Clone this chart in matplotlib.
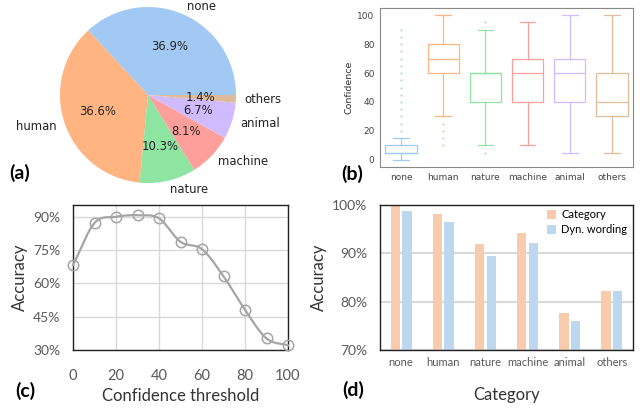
import numpy as np
import matplotlib
matplotlib.use('Agg')
import matplotlib.pyplot as plt

plt.rcParams['font.family'] = 'DejaVu Sans'

# (a) pie
pie_labels = ['none', 'human', 'nature', 'machine', 'animal', 'others']
pie_share = [36.9, 36.6, 10.3, 8.1, 6.7, 1.4]
pastel = ['#a1c9f4', '#ffb482', '#8de5a1', '#ff9f9b', '#d0bbff', '#debb9b']

# (b) box plot summary (confidence)
box_cats = ['none', 'human', 'nature', 'machine', 'animal', 'others']
box_q1 = [5, 60, 40, 40, 40, 30]
box_med = [5, 70, 60, 60, 60, 40]
box_q3 = [10, 80, 60, 70, 70, 60]
box_lo = [0, 30, 10, 10, 5, 5]
box_hi = [15, 100, 90, 95, 100, 100]
box_fliers = [
    [20, 25, 30, 35, 40, 45, 50, 55, 60, 65, 70, 75, 80, 85, 90],
    [10, 15, 20, 25],
    [5, 95],
    [],
    [],
    [],
]

# (c) accuracy vs confidence threshold
thr = [0, 10, 20, 30, 40, 50, 60, 70, 80, 90, 100]
acc_thr = [68.2, 87.2, 90.0, 90.7, 89.3, 78.7, 75.4, 63.2, 48.1, 35.2, 32.1]

# (d) accuracy per category
bar_cats = ['none', 'human', 'nature', 'machine', 'animal', 'others']
acc_category = [100.0, 98.1, 92.0, 94.2, 77.7, 82.3]
acc_dyn = [98.8, 96.5, 89.4, 92.2, 76.1, 82.3]

W, H = 640, 408
fig = plt.figure(figsize=(W / 100, H / 100), dpi=100)


def px_axes(left, top, right, bottom):
    return fig.add_axes([left / W, 1 - bottom / H, (right - left) / W, (bottom - top) / H])


def smooth(x, y, n=20):
    # catmull-rom style smoothing like the spreadsheet line
    x = np.asarray(x, float)
    y = np.asarray(y, float)
    px = np.concatenate([[2 * x[0] - x[1]], x, [2 * x[-1] - x[-2]]])
    py = np.concatenate([[2 * y[0] - y[1]], y, [2 * y[-1] - y[-2]]])
    xs, ys = [], []
    t = np.linspace(0, 1, n)
    for i in range(1, len(px) - 2):
        for arr, out in ((px, xs), (py, ys)):
            p0, p1, p2, p3 = arr[i - 1], arr[i], arr[i + 1], arr[i + 2]
            c1 = p1 + (p2 - p0) / 6
            c2 = p2 - (p3 - p1) / 6
            seg = (1 - t) ** 3 * p1 + 3 * (1 - t) ** 2 * t * c1 + 3 * (1 - t) * t ** 2 * c2 + t ** 3 * p2
            out.extend(seg)
    return np.array(xs), np.array(ys)


# ---- (a) pie
ax_a = px_axes(60, 7, 236, 183)
ax_a.pie(pie_share, labels=pie_labels, colors=pastel, autopct='%1.1f%%',
         startangle=0, pctdistance=0.6, labeldistance=1.1,
         textprops={'fontsize': 8.4, 'color': '#222222'})
ax_a.set_xlim(-1, 1)
ax_a.set_ylim(-1, 1)
ax_a.set_aspect('equal')

# ---- (b) box plot
ax_b = px_axes(380, 8, 633, 167)
stats = []
for i in range(len(box_cats)):
    stats.append({'q1': box_q1[i], 'med': box_med[i], 'q3': box_q3[i],
                  'whislo': box_lo[i], 'whishi': box_hi[i], 'fliers': box_fliers[i]})
for i, st in enumerate(stats):
    c = pastel[i]
    ax_b.bxp([st], positions=[i], widths=0.74, showfliers=True, manage_ticks=False,
             boxprops=dict(color=c, lw=0.9), medianprops=dict(color=c, lw=0.9),
             whiskerprops=dict(color=c, lw=0.9), capprops=dict(color=c, lw=0.9),
             capwidths=0.37,
             flierprops=dict(marker='.', markersize=0.9, markeredgecolor=c,
                             markerfacecolor=c, linestyle='none'))
ax_b.set_xlim(-0.5, 5.5)
ax_b.set_ylim(-5, 105)
ax_b.set_xticks(range(len(box_cats)))
ax_b.set_xticklabels(box_cats)
ax_b.set_yticks([0, 20, 40, 60, 80, 100])
ax_b.tick_params(length=0, labelsize=6.5, labelcolor='#444444', pad=4)
ax_b.set_ylabel('Confidence', fontsize=6.8, color='#333333', labelpad=3)
for s in ax_b.spines.values():
    s.set_color('#888888')
    s.set_linewidth(0.8)

# ---- (c) accuracy vs threshold
excel_font = 'Lato'
ax_c = px_axes(73, 205, 288, 350)
sx, sy = smooth(thr, acc_thr)
ax_c.plot(sx, sy, color='#a5a5a5', lw=1.6, zorder=3, clip_on=False)
ax_c.plot(thr, acc_thr, 'o', ms=7.5, mfc='none', mec='#a5a5a5', mew=1.1, zorder=4, clip_on=False)
ax_c.set_xlim(0, 100)
ax_c.set_ylim(30, 95.3)
ax_c.set_xticks([0, 20, 40, 60, 80, 100])
ax_c.set_yticks([30, 45, 60, 75, 90])
ax_c.set_yticklabels([f'{v}%' for v in [30, 45, 60, 75, 90]])
ax_c.grid(True, color='#d9d9d9', lw=1)
ax_c.set_axisbelow(True)
ax_c.tick_params(axis='y', length=0, labelsize=10, labelcolor='#595959', pad=9)
ax_c.tick_params(axis='x', length=0, labelsize=10.5, labelcolor='#595959', pad=14)
for lab in ax_c.get_xticklabels() + ax_c.get_yticklabels():
    lab.set_family(excel_font)
ax_c.set_xlabel('Confidence threshold', fontsize=12, family=excel_font, color='#333333', labelpad=3)
ax_c.set_ylabel('Accuracy', fontsize=12, family=excel_font, color='#333333', labelpad=4)
for s in ax_c.spines.values():
    s.set_color('#222222')
    s.set_linewidth(1)

# ---- (d) accuracy per category
ax_d = px_axes(380, 205, 633, 350)
xpos = np.arange(len(bar_cats))
bw = 0.22
ax_d.bar(xpos - 0.138, acc_category, width=bw, color='#f8cbad', label='Category', zorder=2)
ax_d.bar(xpos + 0.138, acc_dyn, width=bw, color='#bdd7ee', label='Dyn. wording', zorder=2)
ax_d.set_xlim(-0.5, 5.5)
ax_d.set_ylim(70, 100)
ax_d.set_yticks([70, 80, 90, 100])
ax_d.set_yticklabels([f'{v}%' for v in [70, 80, 90, 100]])
ax_d.set_xticks(xpos)
ax_d.set_xticklabels(bar_cats)
ax_d.yaxis.grid(True, color='#d9d9d9', lw=1.5)
ax_d.set_axisbelow(True)
ax_d.tick_params(axis='y', length=0, labelsize=10, labelcolor='#595959', pad=9)
ax_d.tick_params(axis='x', length=0, labelsize=8, labelcolor='#595959', pad=5)
for lab in ax_d.get_xticklabels() + ax_d.get_yticklabels():
    lab.set_family(excel_font)
ax_d.set_xlabel('Category', fontsize=12, family=excel_font, color='#333333', labelpad=14)
ax_d.set_ylabel('Accuracy', fontsize=12, family=excel_font, color='#333333', labelpad=4)
ax_d.legend(loc='upper right', bbox_to_anchor=(1.0, 1.01), frameon=False,
            prop={'family': excel_font, 'size': 8},
            handlelength=0.8, handleheight=0.9, handletextpad=0.5, labelspacing=0.35,
            borderaxespad=0.1)
for s in ax_d.spines.values():
    s.set_color('#222222')
    s.set_linewidth(1)

# panel letters
for txt, x, y in [('(a)', 20, 173), ('(b)', 352, 174), ('(c)', 25, 391), ('(d)', 353, 390)]:
    fig.text(x / W, 1 - y / H, txt, fontsize=14, fontweight='bold', family=excel_font,
             ha='center', va='center')

fig.savefig('out.png', dpi=100)
